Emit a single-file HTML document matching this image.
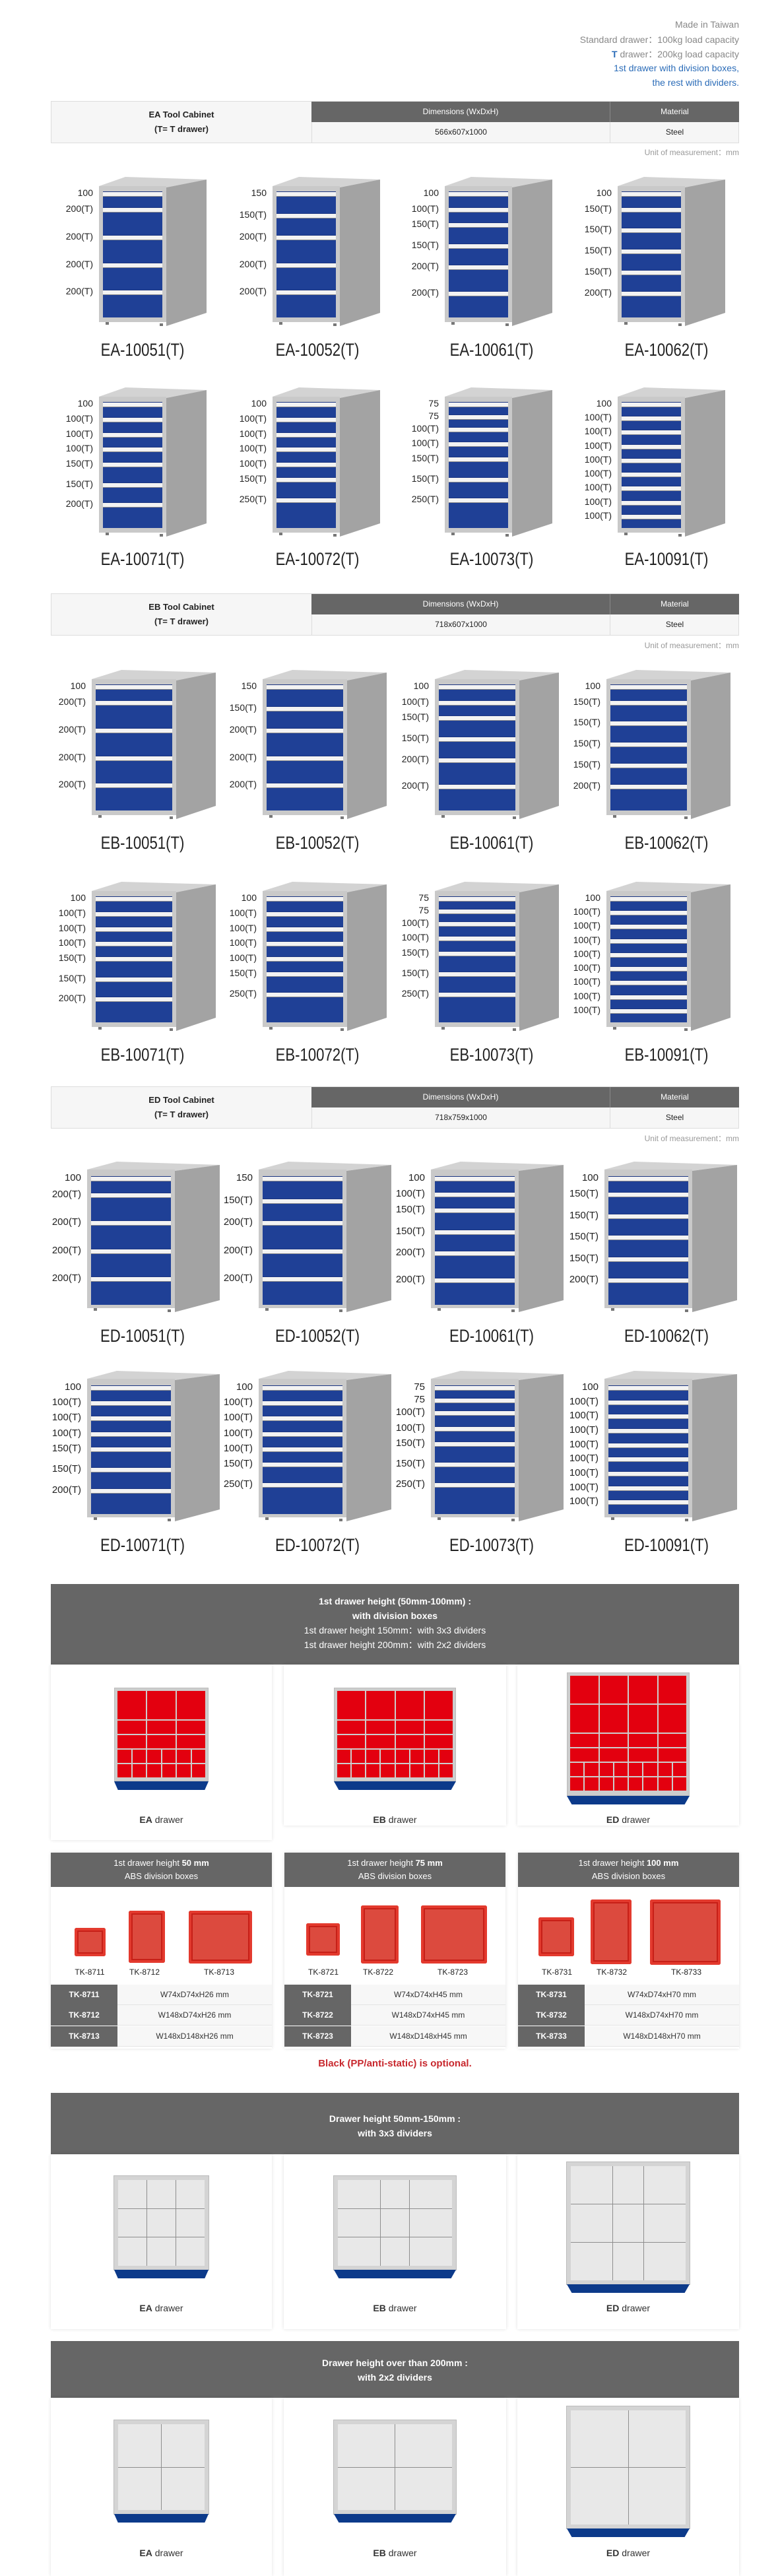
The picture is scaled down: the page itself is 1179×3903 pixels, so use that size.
<!DOCTYPE html>
<html><head><meta charset="utf-8">
<style>
*{margin:0;padding:0;box-sizing:border-box}
body{width:1179px;height:3893px;position:relative;background:#fff;font-family:"Liberation Sans",sans-serif;overflow:hidden}
.a{position:absolute}
.tr{right:59px;text-align:right;font-size:14px;color:#888;line-height:16px}
.bl{color:#2b6cb8}
.tb{left:77px;width:1043px;height:64px;border:1px solid #ddd;background:#f6f6f6}
.tb .c1{position:absolute;left:0;top:0;width:394px;height:62px;text-align:center;font-weight:bold;font-size:13px;line-height:22px;padding-top:9px;color:#222}
.tb .h{position:absolute;top:0;height:31px;background:#666;color:#fff;font-size:12px;text-align:center;line-height:31px}
.tb .v{position:absolute;top:31px;height:31px;font-size:12px;text-align:center;line-height:31px;color:#222;border-left:1px solid #ddd}
.un{right:59px;font-size:12px;color:#999}
.cab{position:absolute}
.cab svg{position:absolute;left:0;top:0}
.drs{position:absolute;left:6px;top:22px;display:flex;flex-direction:column;background:#1a3480}
.drs i{display:block;position:relative;background:#1f4096;border-top:6px solid #f3f3f3;box-shadow:inset 0 1px 0 #8d8d8d;margin-top:1px;min-height:0;flex-basis:0}
.drs s{position:absolute;right:calc(100% + 15px);top:-13px;font-size:14px;color:#222;text-decoration:none;white-space:nowrap;font-style:normal}
.ea{width:163px;height:226px}.ea .drs{width:90px;height:191px}
.eb{width:188px;height:226px}.eb .drs{width:116px;height:191px}
.ed{width:201px;height:228px}.ed .drs{width:121px;height:195px}.ed .drs s{font-size:15px}
.nm{width:200px;text-align:center;font-size:27px;color:#222;line-height:30px;transform:scaleX(.82)}
.gh{left:77px;width:1043px;background:#666;color:#fff;text-align:center;font-size:14px;line-height:22px}
.card{background:#fff;box-shadow:0 0 5px rgba(0,0,0,.12)}
.cap{text-align:center;font-size:14px;color:#333}
.dv{position:absolute;background:#cdcdcd;padding:4px 4px 3px;border:1px solid #bbb}
.dv .r{display:flex;gap:2px;margin-bottom:2px}.dv .r i{flex:1;background:#e3000f;display:block}
.base{position:absolute;height:13px;background:#0c3a8a;clip-path:polygon(0 0,100% 0,96% 100%,4% 100%)}
.gd{position:absolute;border:6px solid #d4d4d4;outline:1px solid #bbb;background:#8e8e8e;display:grid;gap:1px}
.gd i{background:#e8e8e8;display:block}
.bh{height:52px;background:#666;color:#fff;text-align:center;font-size:13px;line-height:20px;padding-top:6px}
.bx{position:absolute;background:#d62a20;border-radius:3px;box-shadow:inset 0 0 0 4px #e33a2e,inset 0 0 0 6px #c71f17}
.bx::after{content:"";position:absolute;left:6px;right:6px;top:6px;bottom:6px;background:#dc4a3e}
.tk{font-size:12px;color:#222;width:80px;text-align:center}
.row{position:absolute;height:31px;left:0;width:335px;background:#f7f7f7;border-bottom:1px solid #e4e4e4}
.row b{position:absolute;left:0;top:0;width:101px;height:31px;background:#666;color:#fff;font-size:12px;line-height:31px;text-align:center}
.row span{position:absolute;left:101px;right:0;top:0;line-height:31px;text-align:center;font-size:12px;color:#333}
</style></head><body>
<svg width="0" height="0" style="position:absolute">
<symbol id="sa" viewBox="0 0 163 226"><polygon points="0,14 40,0 163,4 102,16" fill="#d3d3d3"/><polygon points="102,16 163,4 163,206 102,226" fill="#a3a3a3"/><rect x="0" y="14" width="102" height="206" fill="#c9c9c9"/><rect x="10" y="220" width="5" height="4" fill="#777"/><rect x="92" y="222" width="5" height="4" fill="#777"/></symbol>
<symbol id="sb" viewBox="0 0 188 226"><polygon points="0,14 45,0 188,4 128,16" fill="#d3d3d3"/><polygon points="128,16 188,4 188,206 128,226" fill="#a3a3a3"/><rect x="0" y="14" width="128" height="206" fill="#c9c9c9"/><rect x="10" y="220" width="5" height="4" fill="#777"/><rect x="118" y="222" width="5" height="4" fill="#777"/></symbol>
<symbol id="sd" viewBox="0 0 201 228"><polygon points="0,12 45,0 201,5 133,14" fill="#d3d3d3"/><polygon points="133,14 201,5 201,210 133,228" fill="#a3a3a3"/><rect x="0" y="12" width="133" height="210" fill="#c9c9c9"/><rect x="10" y="222" width="5" height="4" fill="#777"/><rect x="122" y="224" width="5" height="4" fill="#777"/></symbol>
</svg>

<div class="a tr" style="top:29px">Made in Taiwan</div>
<div class="a tr" style="top:52px">Standard drawer：100kg load capacity</div>
<div class="a tr" style="top:74px"><b class="bl">T</b> drawer：200kg load capacity</div>
<div class="a tr bl" style="top:95px">1st drawer with division boxes,</div>
<div class="a tr bl" style="top:117px">the rest with dividers.</div>

<!-- EA -->
<div class="a tb" style="top:153px"><div class="c1">EA Tool Cabinet<br>(T= T drawer)</div><div class="h" style="left:394px;width:452px">Dimensions (WxDxH)</div><div class="h" style="left:846px;width:196px;border-left:1px solid #888">Material</div><div class="v" style="left:394px;width:452px">566x607x1000</div><div class="v" style="left:846px;width:196px">Steel</div></div>
<div class="a un" style="top:222px">Unit of measurement：mm</div>

<div class="cab ea" style="left:150px;top:268px"><svg width="163" height="226"><use href="#sa"/></svg><div class="drs"><i style="flex-grow:100"><s>100</s></i><i style="flex-grow:200"><s>200(T)</s></i><i style="flex-grow:200"><s>200(T)</s></i><i style="flex-grow:200"><s>200(T)</s></i><i style="flex-grow:200"><s>200(T)</s></i></div></div>
<div class="cab ea" style="left:413px;top:268px"><svg width="163" height="226"><use href="#sa"/></svg><div class="drs"><i style="flex-grow:150"><s>150</s></i><i style="flex-grow:150"><s>150(T)</s></i><i style="flex-grow:200"><s>200(T)</s></i><i style="flex-grow:200"><s>200(T)</s></i><i style="flex-grow:200"><s>200(T)</s></i></div></div>
<div class="cab ea" style="left:674px;top:268px"><svg width="163" height="226"><use href="#sa"/></svg><div class="drs"><i style="flex-grow:100"><s>100</s></i><i style="flex-grow:100"><s>100(T)</s></i><i style="flex-grow:150"><s>150(T)</s></i><i style="flex-grow:150"><s>150(T)</s></i><i style="flex-grow:200"><s>200(T)</s></i><i style="flex-grow:200"><s>200(T)</s></i></div></div>
<div class="cab ea" style="left:936px;top:268px"><svg width="163" height="226"><use href="#sa"/></svg><div class="drs"><i style="flex-grow:100"><s>100</s></i><i style="flex-grow:150"><s>150(T)</s></i><i style="flex-grow:150"><s>150(T)</s></i><i style="flex-grow:150"><s>150(T)</s></i><i style="flex-grow:150"><s>150(T)</s></i><i style="flex-grow:200"><s>200(T)</s></i></div></div>
<div class="a nm" style="left:116px;top:515px">EA-10051(T)</div>
<div class="a nm" style="left:381px;top:515px">EA-10052(T)</div>
<div class="a nm" style="left:645px;top:515px">EA-10061(T)</div>
<div class="a nm" style="left:910px;top:515px">EA-10062(T)</div>

<div class="cab ea" style="left:150px;top:587px"><svg width="163" height="226"><use href="#sa"/></svg><div class="drs"><i style="flex-grow:100"><s>100</s></i><i style="flex-grow:100"><s>100(T)</s></i><i style="flex-grow:100"><s>100(T)</s></i><i style="flex-grow:100"><s>100(T)</s></i><i style="flex-grow:150"><s>150(T)</s></i><i style="flex-grow:150"><s>150(T)</s></i><i style="flex-grow:200"><s>200(T)</s></i></div></div>
<div class="cab ea" style="left:413px;top:587px"><svg width="163" height="226"><use href="#sa"/></svg><div class="drs"><i style="flex-grow:100"><s>100</s></i><i style="flex-grow:100"><s>100(T)</s></i><i style="flex-grow:100"><s>100(T)</s></i><i style="flex-grow:100"><s>100(T)</s></i><i style="flex-grow:100"><s>100(T)</s></i><i style="flex-grow:150"><s>150(T)</s></i><i style="flex-grow:250"><s>250(T)</s></i></div></div>
<div class="cab ea" style="left:674px;top:587px"><svg width="163" height="226"><use href="#sa"/></svg><div class="drs"><i style="flex-grow:75"><s>75</s></i><i style="flex-grow:75"><s>75</s></i><i style="flex-grow:100"><s>100(T)</s></i><i style="flex-grow:100"><s>100(T)</s></i><i style="flex-grow:150"><s>150(T)</s></i><i style="flex-grow:150"><s>150(T)</s></i><i style="flex-grow:250"><s>250(T)</s></i></div></div>
<div class="cab ea" style="left:936px;top:587px"><svg width="163" height="226"><use href="#sa"/></svg><div class="drs"><i style="flex-grow:100"><s>100</s></i><i style="flex-grow:100"><s>100(T)</s></i><i style="flex-grow:100"><s>100(T)</s></i><i style="flex-grow:100"><s>100(T)</s></i><i style="flex-grow:100"><s>100(T)</s></i><i style="flex-grow:100"><s>100(T)</s></i><i style="flex-grow:100"><s>100(T)</s></i><i style="flex-grow:100"><s>100(T)</s></i><i style="flex-grow:100"><s>100(T)</s></i></div></div>
<div class="a nm" style="left:116px;top:832px">EA-10071(T)</div>
<div class="a nm" style="left:381px;top:832px">EA-10072(T)</div>
<div class="a nm" style="left:645px;top:832px">EA-10073(T)</div>
<div class="a nm" style="left:910px;top:832px">EA-10091(T)</div>

<!-- EB -->
<div class="a tb" style="top:899px"><div class="c1">EB Tool Cabinet<br>(T= T drawer)</div><div class="h" style="left:394px;width:452px">Dimensions (WxDxH)</div><div class="h" style="left:846px;width:196px;border-left:1px solid #888">Material</div><div class="v" style="left:394px;width:452px">718x607x1000</div><div class="v" style="left:846px;width:196px">Steel</div></div>
<div class="a un" style="top:969px">Unit of measurement：mm</div>

<div class="cab eb" style="left:139px;top:1015px"><svg width="188" height="226"><use href="#sb"/></svg><div class="drs"><i style="flex-grow:100"><s>100</s></i><i style="flex-grow:200"><s>200(T)</s></i><i style="flex-grow:200"><s>200(T)</s></i><i style="flex-grow:200"><s>200(T)</s></i><i style="flex-grow:200"><s>200(T)</s></i></div></div>
<div class="cab eb" style="left:398px;top:1015px"><svg width="188" height="226"><use href="#sb"/></svg><div class="drs"><i style="flex-grow:150"><s>150</s></i><i style="flex-grow:150"><s>150(T)</s></i><i style="flex-grow:200"><s>200(T)</s></i><i style="flex-grow:200"><s>200(T)</s></i><i style="flex-grow:200"><s>200(T)</s></i></div></div>
<div class="cab eb" style="left:659px;top:1015px"><svg width="188" height="226"><use href="#sb"/></svg><div class="drs"><i style="flex-grow:100"><s>100</s></i><i style="flex-grow:100"><s>100(T)</s></i><i style="flex-grow:150"><s>150(T)</s></i><i style="flex-grow:150"><s>150(T)</s></i><i style="flex-grow:200"><s>200(T)</s></i><i style="flex-grow:200"><s>200(T)</s></i></div></div>
<div class="cab eb" style="left:919px;top:1015px"><svg width="188" height="226"><use href="#sb"/></svg><div class="drs"><i style="flex-grow:100"><s>100</s></i><i style="flex-grow:150"><s>150(T)</s></i><i style="flex-grow:150"><s>150(T)</s></i><i style="flex-grow:150"><s>150(T)</s></i><i style="flex-grow:150"><s>150(T)</s></i><i style="flex-grow:200"><s>200(T)</s></i></div></div>
<div class="a nm" style="left:116px;top:1262px">EB-10051(T)</div>
<div class="a nm" style="left:381px;top:1262px">EB-10052(T)</div>
<div class="a nm" style="left:645px;top:1262px">EB-10061(T)</div>
<div class="a nm" style="left:910px;top:1262px">EB-10062(T)</div>

<div class="cab eb" style="left:139px;top:1336px"><svg width="188" height="226"><use href="#sb"/></svg><div class="drs"><i style="flex-grow:100"><s>100</s></i><i style="flex-grow:100"><s>100(T)</s></i><i style="flex-grow:100"><s>100(T)</s></i><i style="flex-grow:100"><s>100(T)</s></i><i style="flex-grow:150"><s>150(T)</s></i><i style="flex-grow:150"><s>150(T)</s></i><i style="flex-grow:200"><s>200(T)</s></i></div></div>
<div class="cab eb" style="left:398px;top:1336px"><svg width="188" height="226"><use href="#sb"/></svg><div class="drs"><i style="flex-grow:100"><s>100</s></i><i style="flex-grow:100"><s>100(T)</s></i><i style="flex-grow:100"><s>100(T)</s></i><i style="flex-grow:100"><s>100(T)</s></i><i style="flex-grow:100"><s>100(T)</s></i><i style="flex-grow:150"><s>150(T)</s></i><i style="flex-grow:250"><s>250(T)</s></i></div></div>
<div class="cab eb" style="left:659px;top:1336px"><svg width="188" height="226"><use href="#sb"/></svg><div class="drs"><i style="flex-grow:75"><s>75</s></i><i style="flex-grow:75"><s>75</s></i><i style="flex-grow:100"><s>100(T)</s></i><i style="flex-grow:100"><s>100(T)</s></i><i style="flex-grow:150"><s>150(T)</s></i><i style="flex-grow:150"><s>150(T)</s></i><i style="flex-grow:250"><s>250(T)</s></i></div></div>
<div class="cab eb" style="left:919px;top:1336px"><svg width="188" height="226"><use href="#sb"/></svg><div class="drs"><i style="flex-grow:100"><s>100</s></i><i style="flex-grow:100"><s>100(T)</s></i><i style="flex-grow:100"><s>100(T)</s></i><i style="flex-grow:100"><s>100(T)</s></i><i style="flex-grow:100"><s>100(T)</s></i><i style="flex-grow:100"><s>100(T)</s></i><i style="flex-grow:100"><s>100(T)</s></i><i style="flex-grow:100"><s>100(T)</s></i><i style="flex-grow:100"><s>100(T)</s></i></div></div>
<div class="a nm" style="left:116px;top:1583px">EB-10071(T)</div>
<div class="a nm" style="left:381px;top:1583px">EB-10072(T)</div>
<div class="a nm" style="left:645px;top:1583px">EB-10073(T)</div>
<div class="a nm" style="left:910px;top:1583px">EB-10091(T)</div>

<!-- ED -->
<div class="a tb" style="top:1646px"><div class="c1">ED Tool Cabinet<br>(T= T drawer)</div><div class="h" style="left:394px;width:452px">Dimensions (WxDxH)</div><div class="h" style="left:846px;width:196px;border-left:1px solid #888">Material</div><div class="v" style="left:394px;width:452px">718x759x1000</div><div class="v" style="left:846px;width:196px">Steel</div></div>
<div class="a un" style="top:1716px">Unit of measurement：mm</div>

<div class="cab ed" style="left:132px;top:1760px"><svg width="201" height="228"><use href="#sd"/></svg><div class="drs"><i style="flex-grow:100"><s>100</s></i><i style="flex-grow:200"><s>200(T)</s></i><i style="flex-grow:200"><s>200(T)</s></i><i style="flex-grow:200"><s>200(T)</s></i><i style="flex-grow:200"><s>200(T)</s></i></div></div>
<div class="cab ed" style="left:392px;top:1760px"><svg width="201" height="228"><use href="#sd"/></svg><div class="drs"><i style="flex-grow:150"><s>150</s></i><i style="flex-grow:150"><s>150(T)</s></i><i style="flex-grow:200"><s>200(T)</s></i><i style="flex-grow:200"><s>200(T)</s></i><i style="flex-grow:200"><s>200(T)</s></i></div></div>
<div class="cab ed" style="left:653px;top:1760px"><svg width="201" height="228"><use href="#sd"/></svg><div class="drs"><i style="flex-grow:100"><s>100</s></i><i style="flex-grow:100"><s>100(T)</s></i><i style="flex-grow:150"><s>150(T)</s></i><i style="flex-grow:150"><s>150(T)</s></i><i style="flex-grow:200"><s>200(T)</s></i><i style="flex-grow:200"><s>200(T)</s></i></div></div>
<div class="cab ed" style="left:916px;top:1760px"><svg width="201" height="228"><use href="#sd"/></svg><div class="drs"><i style="flex-grow:100"><s>100</s></i><i style="flex-grow:150"><s>150(T)</s></i><i style="flex-grow:150"><s>150(T)</s></i><i style="flex-grow:150"><s>150(T)</s></i><i style="flex-grow:150"><s>150(T)</s></i><i style="flex-grow:200"><s>200(T)</s></i></div></div>
<div class="a nm" style="left:116px;top:2009px">ED-10051(T)</div>
<div class="a nm" style="left:381px;top:2009px">ED-10052(T)</div>
<div class="a nm" style="left:645px;top:2009px">ED-10061(T)</div>
<div class="a nm" style="left:910px;top:2009px">ED-10062(T)</div>

<div class="cab ed" style="left:132px;top:2077px"><svg width="201" height="228"><use href="#sd"/></svg><div class="drs"><i style="flex-grow:100"><s>100</s></i><i style="flex-grow:100"><s>100(T)</s></i><i style="flex-grow:100"><s>100(T)</s></i><i style="flex-grow:100"><s>100(T)</s></i><i style="flex-grow:150"><s>150(T)</s></i><i style="flex-grow:150"><s>150(T)</s></i><i style="flex-grow:200"><s>200(T)</s></i></div></div>
<div class="cab ed" style="left:392px;top:2077px"><svg width="201" height="228"><use href="#sd"/></svg><div class="drs"><i style="flex-grow:100"><s>100</s></i><i style="flex-grow:100"><s>100(T)</s></i><i style="flex-grow:100"><s>100(T)</s></i><i style="flex-grow:100"><s>100(T)</s></i><i style="flex-grow:100"><s>100(T)</s></i><i style="flex-grow:150"><s>150(T)</s></i><i style="flex-grow:250"><s>250(T)</s></i></div></div>
<div class="cab ed" style="left:653px;top:2077px"><svg width="201" height="228"><use href="#sd"/></svg><div class="drs"><i style="flex-grow:75"><s>75</s></i><i style="flex-grow:75"><s>75</s></i><i style="flex-grow:100"><s>100(T)</s></i><i style="flex-grow:100"><s>100(T)</s></i><i style="flex-grow:150"><s>150(T)</s></i><i style="flex-grow:150"><s>150(T)</s></i><i style="flex-grow:250"><s>250(T)</s></i></div></div>
<div class="cab ed" style="left:916px;top:2077px"><svg width="201" height="228"><use href="#sd"/></svg><div class="drs"><i style="flex-grow:100"><s>100</s></i><i style="flex-grow:100"><s>100(T)</s></i><i style="flex-grow:100"><s>100(T)</s></i><i style="flex-grow:100"><s>100(T)</s></i><i style="flex-grow:100"><s>100(T)</s></i><i style="flex-grow:100"><s>100(T)</s></i><i style="flex-grow:100"><s>100(T)</s></i><i style="flex-grow:100"><s>100(T)</s></i><i style="flex-grow:100"><s>100(T)</s></i></div></div>
<div class="a nm" style="left:116px;top:2326px">ED-10071(T)</div>
<div class="a nm" style="left:381px;top:2326px">ED-10072(T)</div>
<div class="a nm" style="left:645px;top:2326px">ED-10073(T)</div>
<div class="a nm" style="left:910px;top:2326px">ED-10091(T)</div>

<!-- division boxes section -->
<div class="a gh" style="top:2400px;height:122px;padding-top:15px"><b>1st drawer height (50mm-100mm) :</b><br><b>with division boxes</b><br>1st drawer height 150mm：with 3x3 dividers<br>1st drawer height 200mm：with 2x2 dividers</div>
<div class="a card" style="left:77px;top:2522px;width:335px;height:266px"></div>
<div class="a card" style="left:430px;top:2522px;width:337px;height:244px"></div>
<div class="a card" style="left:784px;top:2522px;width:336px;height:244px"></div>

<div class="dv" style="left:173px;top:2557px;width:143px;height:142px">
<div class="r" style="height:43px"><i></i><i></i><i></i></div><div class="r" style="height:20px"><i></i><i></i><i></i></div><div class="r" style="height:20px"><i></i><i></i><i></i></div><div class="r" style="height:20px"><i></i><i></i><i></i><i></i><i></i><i></i></div><div class="r" style="height:20px"><i></i><i></i><i></i><i></i><i></i><i></i></div></div>
<div class="base" style="left:173px;top:2699px;width:143px"></div>
<div class="dv" style="left:506px;top:2557px;width:185px;height:142px">
<div class="r" style="height:43px"><i></i><i></i><i></i><i></i></div><div class="r" style="height:20px"><i></i><i></i><i></i><i></i></div><div class="r" style="height:20px"><i></i><i></i><i></i><i></i></div><div class="r" style="height:20px"><i></i><i></i><i></i><i></i><i></i><i></i><i></i><i></i></div><div class="r" style="height:20px"><i></i><i></i><i></i><i></i><i></i><i></i><i></i><i></i></div></div>
<div class="base" style="left:506px;top:2699px;width:185px"></div>
<div class="dv" style="left:859px;top:2534px;width:186px;height:187px">
<div class="r" style="height:42px"><i></i><i></i><i></i><i></i></div><div class="r" style="height:42px"><i></i><i></i><i></i><i></i></div><div class="r" style="height:20px"><i></i><i></i><i></i><i></i></div><div class="r" style="height:20px"><i></i><i></i><i></i><i></i></div><div class="r" style="height:20px"><i></i><i></i><i></i><i></i><i></i><i></i><i></i><i></i></div><div class="r" style="height:20px"><i></i><i></i><i></i><i></i><i></i><i></i><i></i><i></i></div></div>
<div class="base" style="left:859px;top:2721px;width:186px"></div>
<div class="a cap" style="left:77px;width:335px;top:2749px"><b>EA</b> drawer</div>
<div class="a cap" style="left:430px;width:337px;top:2749px"><b>EB</b> drawer</div>
<div class="a cap" style="left:784px;width:336px;top:2749px"><b>ED</b> drawer</div>

<!-- box panels -->
<div class="a card" style="left:77px;top:2807px;width:335px;height:297px"><div class="bh">1st drawer height <b>50 mm</b><br>ABS division boxes</div>
<div class="row" style="top:200px"><b>TK-8711</b><span>W74xD74xH26 mm</span></div>
<div class="row" style="top:231px"><b>TK-8712</b><span>W148xD74xH26 mm</span></div>
<div class="row" style="top:263px"><b>TK-8713</b><span>W148xD148xH26 mm</span></div></div>
<div class="a card" style="left:431px;top:2807px;width:335px;height:297px"><div class="bh">1st drawer height <b>75 mm</b><br>ABS division boxes</div>
<div class="row" style="top:200px"><b>TK-8721</b><span>W74xD74xH45 mm</span></div>
<div class="row" style="top:231px"><b>TK-8722</b><span>W148xD74xH45 mm</span></div>
<div class="row" style="top:263px"><b>TK-8723</b><span>W148xD148xH45 mm</span></div></div>
<div class="a card" style="left:785px;top:2807px;width:335px;height:297px"><div class="bh">1st drawer height <b>100 mm</b><br>ABS division boxes</div>
<div class="row" style="top:200px"><b>TK-8731</b><span>W74xD74xH70 mm</span></div>
<div class="row" style="top:231px"><b>TK-8732</b><span>W148xD74xH70 mm</span></div>
<div class="row" style="top:263px"><b>TK-8733</b><span>W148xD148xH70 mm</span></div></div>

<div class="bx" style="left:113px;top:2921px;width:47px;height:43px"></div>
<div class="bx" style="left:195px;top:2895px;width:55px;height:79px"></div>
<div class="bx" style="left:286px;top:2895px;width:96px;height:80px"></div>
<div class="bx" style="left:464px;top:2914px;width:51px;height:49px"></div>
<div class="bx" style="left:547px;top:2887px;width:57px;height:88px"></div>
<div class="bx" style="left:638px;top:2887px;width:100px;height:88px"></div>
<div class="bx" style="left:816px;top:2905px;width:54px;height:59px"></div>
<div class="bx" style="left:895px;top:2878px;width:62px;height:98px"></div>
<div class="bx" style="left:985px;top:2878px;width:107px;height:99px"></div>
<div class="a tk" style="left:96px;top:2981px">TK-8711</div>
<div class="a tk" style="left:179px;top:2981px">TK-8712</div>
<div class="a tk" style="left:292px;top:2981px">TK-8713</div>
<div class="a tk" style="left:450px;top:2981px">TK-8721</div>
<div class="a tk" style="left:533px;top:2981px">TK-8722</div>
<div class="a tk" style="left:646px;top:2981px">TK-8723</div>
<div class="a tk" style="left:804px;top:2981px">TK-8731</div>
<div class="a tk" style="left:887px;top:2981px">TK-8732</div>
<div class="a tk" style="left:1000px;top:2981px">TK-8733</div>
<div class="a" style="left:77px;width:1043px;top:3118px;text-align:center;font-size:15px;font-weight:bold;color:#c8282e">Black (PP/anti-static) is optional.</div>

<!-- 3x3 dividers -->
<div class="a gh" style="top:3171px;height:93px;padding-top:28px"><b>Drawer height 50mm-150mm :</b><br><b>with 3x3 dividers</b></div>
<div class="a card" style="left:77px;top:3264px;width:335px;height:265px"></div>
<div class="a card" style="left:430px;top:3264px;width:337px;height:265px"></div>
<div class="a card" style="left:784px;top:3264px;width:336px;height:265px"></div>
<div class="gd" style="left:173px;top:3297px;width:143px;height:142px;grid-template-columns:1fr 1fr 1fr;grid-template-rows:1fr 1fr 1fr"><i></i><i></i><i></i><i></i><i></i><i></i><i></i><i></i><i></i></div>
<div class="base" style="left:173px;top:3439px;width:143px"></div>
<div class="gd" style="left:506px;top:3297px;width:185px;height:142px;grid-template-columns:1.5fr 1fr 1.5fr;grid-template-rows:1fr 1fr 1fr"><i></i><i></i><i></i><i></i><i></i><i></i><i></i><i></i><i></i></div>
<div class="base" style="left:506px;top:3439px;width:185px"></div>
<div class="gd" style="left:859px;top:3276px;width:186px;height:185px;grid-template-columns:1.4fr 1fr 1.4fr;grid-template-rows:1fr 1fr 1fr"><i></i><i></i><i></i><i></i><i></i><i></i><i></i><i></i><i></i></div>
<div class="base" style="left:859px;top:3461px;width:186px"></div>
<div class="a cap" style="left:77px;width:335px;top:3489px"><b>EA</b> drawer</div>
<div class="a cap" style="left:430px;width:337px;top:3489px"><b>EB</b> drawer</div>
<div class="a cap" style="left:784px;width:336px;top:3489px"><b>ED</b> drawer</div>

<!-- 2x2 dividers -->
<div class="a gh" style="top:3547px;height:86px;padding-top:22px"><b>Drawer height over than 200mm :</b><br><b>with 2x2 dividers</b></div>
<div class="a card" style="left:77px;top:3633px;width:335px;height:270px"></div>
<div class="a card" style="left:430px;top:3633px;width:337px;height:270px"></div>
<div class="a card" style="left:784px;top:3633px;width:336px;height:270px"></div>
<div class="gd" style="left:173px;top:3667px;width:143px;height:142px;grid-template-columns:1fr 1fr;grid-template-rows:1fr 1fr"><i></i><i></i><i></i><i></i></div>
<div class="base" style="left:173px;top:3809px;width:143px"></div>
<div class="gd" style="left:506px;top:3667px;width:185px;height:142px;grid-template-columns:1fr 1fr;grid-template-rows:1fr 1fr"><i></i><i></i><i></i><i></i></div>
<div class="base" style="left:506px;top:3809px;width:185px"></div>
<div class="gd" style="left:859px;top:3646px;width:186px;height:185px;grid-template-columns:1fr 1fr;grid-template-rows:1fr 1fr"><i></i><i></i><i></i><i></i></div>
<div class="base" style="left:859px;top:3831px;width:186px"></div>
<div class="a cap" style="left:77px;width:335px;top:3860px"><b>EA</b> drawer</div>
<div class="a cap" style="left:430px;width:337px;top:3860px"><b>EB</b> drawer</div>
<div class="a cap" style="left:784px;width:336px;top:3860px"><b>ED</b> drawer</div>
</body></html>
